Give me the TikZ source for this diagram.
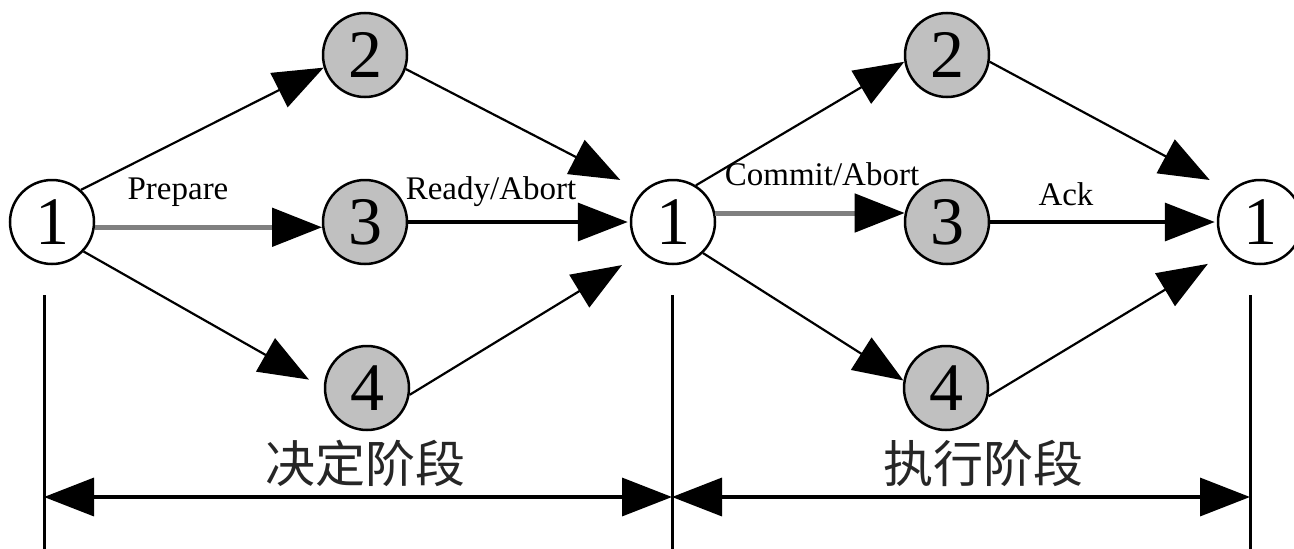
\documentclass[tikz,border=0pt]{standalone}
\usepackage{fontspec}
\setmainfont{Liberation Serif}
\newfontfamily\cjkfont{Noto Sans CJK SC}
\usetikzlibrary{arrows.meta}
\definecolor{partfill}{RGB}{192,192,192}
\definecolor{preline}{RGB}{128,128,128}
\begin{document}
\begin{tikzpicture}[x=1pt,y=-1pt,
  site/.style={circle,draw=black,line width=2.5pt,minimum size=84pt,inner sep=0pt,
    font=\fontsize{68}{68}\selectfont},
  coord/.style={site,fill=white},
  part/.style={site,fill=partfill},
  bigtip/.style={-{Triangle[length=50pt,width=38pt,color=black]}},
  msg/.style={bigtip,line width=2.2pt},
  msgh/.style={bigtip,line width=3.5pt},
  msgthick/.style={bigtip,line width=5pt,draw=preline},
  lbl/.style={anchor=base,inner sep=0pt,font=\fontsize{33}{36}\selectfont},
  cjk/.style={inner sep=0pt,font=\cjkfont\fontsize{50}{54}\selectfont,text=black!85},
  dimline/.style={line width=3.5pt,{Triangle[length=50pt,width=38pt]}-{Triangle[length=50pt,width=38pt]}},
  bound/.style={line width=3pt}
]
\useasboundingbox (0,0) rectangle (1294,549);

% coordinator and participants
\node[coord] (L1) at (52,222) {1};
\node[part]  (L2) at (365,55) {2};
\node[part]  (L3) at (365,222) {3};
\node[part]  (L4) at (367,388) {4};
\node[coord] (M1) at (673,222) {1};
\node[part]  (R2) at (947,55) {2};
\node[part]  (R3) at (947,222) {3};
\node[part]  (R4) at (946,388) {4};
\node[coord] (R1) at (1260,222) {1};

% phase one: prepare and vote
\draw[msg] (L1.48) -- (L2.197);
\draw[msgthick] (L1.-7) -- (L3.187);
\draw[msg,shorten >=17pt] (L1.-43) -- (L4.west);
\draw[msg,shorten >=25pt] (L2.-19) -- (M1.135);
\draw[msgh,shorten >=2pt] (L3.east) -- (M1.west);
\draw[msg,shorten >=24pt] (L4.-9) -- (M1.225);

% phase two: commit and acknowledge
\draw[msg] (M1.58) -- (R2.189);
\draw[msgthick] (M1.12) -- (R3.168);
\draw[msg] (M1.-46) -- (R4.170);
\draw[msg,shorten >=23pt] (R2.-9) -- (R1.134);
\draw[msgh,shorten >=2pt] (R3.east) -- (R1.west);
\draw[msg,shorten >=24pt] (R4.-11) -- (R1.223);

% message labels
\node[lbl] (tprep)   at (178,199) {Prepare};
\node[lbl] (tready)  at (491,199) {Ready/Abort};
\node[lbl] (tcommit) at (822,185) {Commit/Abort};
\node[lbl] (tack)    at (1066,205) {Ack};

% phase boundaries
\coordinate (topL) at (44,295);   \coordinate (botL) at (44,549);
\coordinate (topM) at (672,295);  \coordinate (botM) at (672,549);
\coordinate (topR) at (1250,295); \coordinate (botR) at (1250,549);
\draw[bound] (topL) -- (botL);
\draw[bound] (topM) -- (botM);
\draw[bound] (topR) -- (botR);

\coordinate (dimL) at (44,497);
\coordinate (dimM) at (672,497);
\coordinate (dimR) at (1250,497);
\draw[dimline] (dimL) -- (dimM);
\draw[dimline] (dimM) -- (dimR);

\node[cjk] (phase1) at (365,463) {决定阶段};
\node[cjk] (phase2) at (983,463) {执行阶段};
\end{tikzpicture}
\end{document}
